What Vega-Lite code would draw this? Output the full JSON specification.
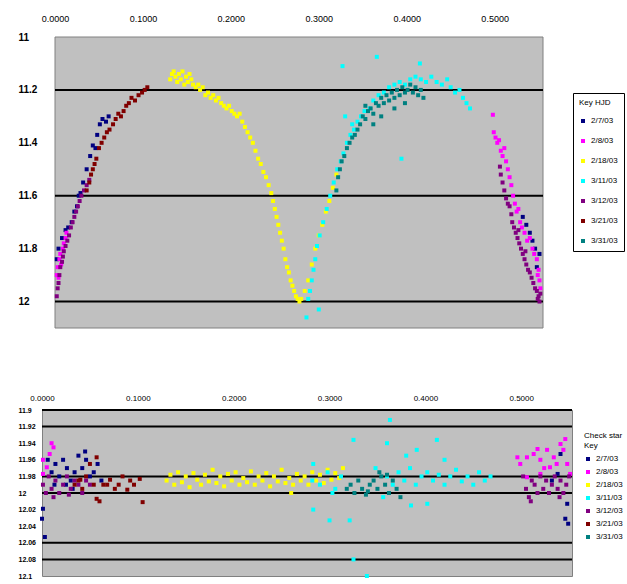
{
  "$schema": "https://vega.github.io/schema/vega-lite/v6.json",
  "background": "white",
  "padding": {"left": 17, "top": 14, "right": 0, "bottom": 0},
  "spacing": 64,
  "config": {
    "font": "Liberation Sans",
    "view": {"fill": "#C0C0C0", "stroke": "#808080", "strokeWidth": 1},
    "axis": {"grid": false, "domain": false, "ticks": false, "tickSize": 0, "labelColor": "#000000", "title": null},
    "legend": {"symbolType": "square", "symbolSize": 16, "labelFontSize": 8, "titleFontSize": 8, "titleFontWeight": "normal", "labelLimit": 40, "symbolStrokeWidth": 0}
  },
  "resolve": {"scale": {"color": "independent"}, "legend": {"color": "independent"}},
  "datasets": {
    "lc": [
      {"p":0.002,"m":11.84,"s":"2/7/03"},{"p":0.004,"m":11.80,"s":"2/7/03"},{"p":0.008,"m":11.76,"s":"2/7/03"},{"p":0.012,"m":11.73,"s":"2/7/03"},{"p":0.015,"m":11.72,"s":"2/7/03"},{"p":0.019,"m":11.70,"s":"2/7/03"},{"p":0.022,"m":11.66,"s":"2/7/03"},{"p":0.025,"m":11.64,"s":"2/7/03"},{"p":0.027,"m":11.60,"s":"2/7/03"},{"p":0.029,"m":11.59,"s":"2/7/03"},{"p":0.032,"m":11.55,"s":"2/7/03"},{"p":0.036,"m":11.50,"s":"2/7/03"},{"p":0.040,"m":11.45,"s":"2/7/03"},{"p":0.043,"m":11.41,"s":"2/7/03"},{"p":0.046,"m":11.42,"s":"2/7/03"},{"p":0.048,"m":11.37,"s":"2/7/03"},{"p":0.051,"m":11.33,"s":"2/7/03"},{"p":0.054,"m":11.31,"s":"2/7/03"},{"p":0.058,"m":11.32,"s":"2/7/03"},{"p":0.061,"m":11.30,"s":"2/7/03"},
      {"p":0.532,"m":11.68,"s":"2/7/03"},{"p":0.536,"m":11.71,"s":"2/7/03"},{"p":0.540,"m":11.74,"s":"2/7/03"},{"p":0.543,"m":11.77,"s":"2/7/03"},{"p":0.546,"m":11.80,"s":"2/7/03"},{"p":0.548,"m":11.87,"s":"2/7/03"},{"p":0.551,"m":11.82,"s":"2/7/03"},
      {"p":0.002,"m":11.90,"s":"2/8/03"},{"p":0.003,"m":11.87,"s":"2/8/03"},{"p":0.004,"m":11.91,"s":"2/8/03"},{"p":0.005,"m":11.84,"s":"2/8/03"},{"p":0.006,"m":11.82,"s":"2/8/03"},{"p":0.007,"m":11.86,"s":"2/8/03"},{"p":0.009,"m":11.80,"s":"2/8/03"},{"p":0.010,"m":11.78,"s":"2/8/03"},{"p":0.012,"m":11.76,"s":"2/8/03"},{"p":0.013,"m":11.74,"s":"2/8/03"},
      {"p":0.498,"m":11.294,"s":"2/8/03"},{"p":0.499,"m":11.36,"s":"2/8/03"},{"p":0.501,"m":11.38,"s":"2/8/03"},{"p":0.503,"m":11.40,"s":"2/8/03"},{"p":0.505,"m":11.39,"s":"2/8/03"},{"p":0.507,"m":11.43,"s":"2/8/03"},{"p":0.509,"m":11.45,"s":"2/8/03"},{"p":0.511,"m":11.42,"s":"2/8/03"},{"p":0.513,"m":11.47,"s":"2/8/03"},{"p":0.515,"m":11.50,"s":"2/8/03"},{"p":0.517,"m":11.53,"s":"2/8/03"},{"p":0.519,"m":11.56,"s":"2/8/03"},{"p":0.521,"m":11.60,"s":"2/8/03"},{"p":0.523,"m":11.63,"s":"2/8/03"},{"p":0.525,"m":11.66,"s":"2/8/03"},{"p":0.527,"m":11.65,"s":"2/8/03"},{"p":0.529,"m":11.70,"s":"2/8/03"},{"p":0.531,"m":11.72,"s":"2/8/03"},{"p":0.534,"m":11.74,"s":"2/8/03"},{"p":0.537,"m":11.77,"s":"2/8/03"},{"p":0.540,"m":11.76,"s":"2/8/03"},{"p":0.543,"m":11.80,"s":"2/8/03"},{"p":0.545,"m":11.82,"s":"2/8/03"},{"p":0.548,"m":11.84,"s":"2/8/03"},{"p":0.549,"m":11.90,"s":"2/8/03"},{"p":0.550,"m":11.88,"s":"2/8/03"},{"p":0.551,"m":11.92,"s":"2/8/03"},{"p":0.552,"m":11.95,"s":"2/8/03"},
      {"p":0.131,"m":11.16,"s":"2/18/03"},{"p":0.133,"m":11.14,"s":"2/18/03"},{"p":0.135,"m":11.13,"s":"2/18/03"},{"p":0.137,"m":11.15,"s":"2/18/03"},{"p":0.139,"m":11.17,"s":"2/18/03"},{"p":0.141,"m":11.14,"s":"2/18/03"},{"p":0.143,"m":11.16,"s":"2/18/03"},{"p":0.145,"m":11.13,"s":"2/18/03"},{"p":0.147,"m":11.18,"s":"2/18/03"},{"p":0.149,"m":11.15,"s":"2/18/03"},{"p":0.151,"m":11.17,"s":"2/18/03"},{"p":0.153,"m":11.14,"s":"2/18/03"},{"p":0.155,"m":11.16,"s":"2/18/03"},{"p":0.157,"m":11.18,"s":"2/18/03"},{"p":0.160,"m":11.19,"s":"2/18/03"},{"p":0.163,"m":11.18,"s":"2/18/03"},{"p":0.165,"m":11.20,"s":"2/18/03"},{"p":0.168,"m":11.19,"s":"2/18/03"},{"p":0.171,"m":11.22,"s":"2/18/03"},{"p":0.174,"m":11.21,"s":"2/18/03"},{"p":0.177,"m":11.23,"s":"2/18/03"},{"p":0.180,"m":11.22,"s":"2/18/03"},{"p":0.183,"m":11.24,"s":"2/18/03"},{"p":0.186,"m":11.23,"s":"2/18/03"},{"p":0.189,"m":11.25,"s":"2/18/03"},{"p":0.192,"m":11.26,"s":"2/18/03"},{"p":0.195,"m":11.27,"s":"2/18/03"},{"p":0.198,"m":11.26,"s":"2/18/03"},{"p":0.201,"m":11.28,"s":"2/18/03"},{"p":0.204,"m":11.29,"s":"2/18/03"},{"p":0.207,"m":11.30,"s":"2/18/03"},{"p":0.210,"m":11.29,"s":"2/18/03"},{"p":0.213,"m":11.32,"s":"2/18/03"},{"p":0.216,"m":11.34,"s":"2/18/03"},{"p":0.219,"m":11.36,"s":"2/18/03"},{"p":0.222,"m":11.38,"s":"2/18/03"},{"p":0.225,"m":11.40,"s":"2/18/03"},{"p":0.228,"m":11.43,"s":"2/18/03"},{"p":0.231,"m":11.46,"s":"2/18/03"},{"p":0.234,"m":11.48,"s":"2/18/03"},{"p":0.237,"m":11.51,"s":"2/18/03"},{"p":0.240,"m":11.53,"s":"2/18/03"},{"p":0.243,"m":11.56,"s":"2/18/03"},{"p":0.246,"m":11.59,"s":"2/18/03"},{"p":0.248,"m":11.62,"s":"2/18/03"},{"p":0.250,"m":11.65,"s":"2/18/03"},{"p":0.252,"m":11.68,"s":"2/18/03"},{"p":0.254,"m":11.71,"s":"2/18/03"},{"p":0.256,"m":11.74,"s":"2/18/03"},{"p":0.258,"m":11.77,"s":"2/18/03"},{"p":0.260,"m":11.80,"s":"2/18/03"},{"p":0.262,"m":11.84,"s":"2/18/03"},{"p":0.264,"m":11.87,"s":"2/18/03"},{"p":0.266,"m":11.89,"s":"2/18/03"},{"p":0.268,"m":11.92,"s":"2/18/03"},{"p":0.270,"m":11.94,"s":"2/18/03"},{"p":0.272,"m":11.96,"s":"2/18/03"},{"p":0.274,"m":11.98,"s":"2/18/03"},{"p":0.276,"m":11.99,"s":"2/18/03"},{"p":0.278,"m":12.00,"s":"2/18/03"},{"p":0.280,"m":11.99,"s":"2/18/03"},{"p":0.284,"m":11.96,"s":"2/18/03"},{"p":0.288,"m":11.92,"s":"2/18/03"},{"p":0.292,"m":11.86,"s":"2/18/03"},{"p":0.296,"m":11.80,"s":"2/18/03"},{"p":0.300,"m":11.75,"s":"2/18/03"},{"p":0.304,"m":11.71,"s":"2/18/03"},{"p":0.308,"m":11.66,"s":"2/18/03"},{"p":0.312,"m":11.62,"s":"2/18/03"},{"p":0.316,"m":11.57,"s":"2/18/03"},{"p":0.320,"m":11.52,"s":"2/18/03"},
      {"p":0.286,"m":12.06,"s":"3/11/03"},{"p":0.288,"m":11.99,"s":"3/11/03"},{"p":0.290,"m":11.96,"s":"3/11/03"},{"p":0.292,"m":11.92,"s":"3/11/03"},{"p":0.294,"m":11.88,"s":"3/11/03"},{"p":0.296,"m":11.84,"s":"3/11/03"},{"p":0.298,"m":11.79,"s":"3/11/03"},{"p":0.300,"m":12.03,"s":"3/11/03"},{"p":0.301,"m":11.75,"s":"3/11/03"},{"p":0.305,"m":11.70,"s":"3/11/03"},{"p":0.309,"m":11.65,"s":"3/11/03"},{"p":0.313,"m":11.60,"s":"3/11/03"},{"p":0.317,"m":11.55,"s":"3/11/03"},{"p":0.321,"m":11.50,"s":"3/11/03"},{"p":0.325,"m":11.47,"s":"3/11/03"},{"p":0.327,"m":11.11,"s":"3/11/03"},{"p":0.328,"m":11.44,"s":"3/11/03"},{"p":0.330,"m":11.30,"s":"3/11/03"},{"p":0.332,"m":11.40,"s":"3/11/03"},{"p":0.336,"m":11.37,"s":"3/11/03"},{"p":0.338,"m":11.33,"s":"3/11/03"},{"p":0.340,"m":11.35,"s":"3/11/03"},{"p":0.344,"m":11.32,"s":"3/11/03"},{"p":0.348,"m":11.30,"s":"3/11/03"},{"p":0.352,"m":11.28,"s":"3/11/03"},{"p":0.358,"m":11.27,"s":"3/11/03"},{"p":0.362,"m":11.24,"s":"3/11/03"},{"p":0.366,"m":11.075,"s":"3/11/03"},{"p":0.368,"m":11.22,"s":"3/11/03"},{"p":0.374,"m":11.21,"s":"3/11/03"},{"p":0.380,"m":11.19,"s":"3/11/03"},{"p":0.386,"m":11.18,"s":"3/11/03"},{"p":0.392,"m":11.17,"s":"3/11/03"},{"p":0.394,"m":11.46,"s":"3/11/03"},{"p":0.398,"m":11.18,"s":"3/11/03"},{"p":0.404,"m":11.16,"s":"3/11/03"},{"p":0.410,"m":11.15,"s":"3/11/03"},{"p":0.415,"m":11.10,"s":"3/11/03"},{"p":0.416,"m":11.16,"s":"3/11/03"},{"p":0.422,"m":11.17,"s":"3/11/03"},{"p":0.428,"m":11.15,"s":"3/11/03"},{"p":0.434,"m":11.17,"s":"3/11/03"},{"p":0.440,"m":11.18,"s":"3/11/03"},{"p":0.446,"m":11.16,"s":"3/11/03"},{"p":0.450,"m":11.19,"s":"3/11/03"},{"p":0.455,"m":11.21,"s":"3/11/03"},{"p":0.460,"m":11.20,"s":"3/11/03"},{"p":0.464,"m":11.23,"s":"3/11/03"},{"p":0.468,"m":11.25,"s":"3/11/03"},{"p":0.472,"m":11.27,"s":"3/11/03"},
      {"p":0.002,"m":11.98,"s":"3/12/03"},{"p":0.003,"m":11.95,"s":"3/12/03"},{"p":0.004,"m":11.93,"s":"3/12/03"},{"p":0.005,"m":11.90,"s":"3/12/03"},{"p":0.006,"m":11.87,"s":"3/12/03"},{"p":0.008,"m":11.85,"s":"3/12/03"},{"p":0.009,"m":11.83,"s":"3/12/03"},{"p":0.010,"m":11.81,"s":"3/12/03"},{"p":0.012,"m":11.79,"s":"3/12/03"},{"p":0.014,"m":11.77,"s":"3/12/03"},{"p":0.016,"m":11.75,"s":"3/12/03"},{"p":0.018,"m":11.72,"s":"3/12/03"},{"p":0.020,"m":11.70,"s":"3/12/03"},{"p":0.022,"m":11.68,"s":"3/12/03"},{"p":0.024,"m":11.66,"s":"3/12/03"},{"p":0.026,"m":11.64,"s":"3/12/03"},{"p":0.028,"m":11.62,"s":"3/12/03"},{"p":0.030,"m":11.60,"s":"3/12/03"},{"p":0.033,"m":11.58,"s":"3/12/03"},{"p":0.036,"m":11.56,"s":"3/12/03"},{"p":0.039,"m":11.54,"s":"3/12/03"},
      {"p":0.506,"m":11.49,"s":"3/12/03"},{"p":0.507,"m":11.52,"s":"3/12/03"},{"p":0.509,"m":11.55,"s":"3/12/03"},{"p":0.511,"m":11.58,"s":"3/12/03"},{"p":0.513,"m":11.61,"s":"3/12/03"},{"p":0.515,"m":11.63,"s":"3/12/03"},{"p":0.517,"m":11.64,"s":"3/12/03"},{"p":0.519,"m":11.67,"s":"3/12/03"},{"p":0.520,"m":11.70,"s":"3/12/03"},{"p":0.522,"m":11.72,"s":"3/12/03"},{"p":0.524,"m":11.74,"s":"3/12/03"},{"p":0.526,"m":11.76,"s":"3/12/03"},{"p":0.527,"m":11.73,"s":"3/12/03"},{"p":0.528,"m":11.78,"s":"3/12/03"},{"p":0.530,"m":11.80,"s":"3/12/03"},{"p":0.532,"m":11.82,"s":"3/12/03"},{"p":0.534,"m":11.84,"s":"3/12/03"},{"p":0.535,"m":11.81,"s":"3/12/03"},{"p":0.536,"m":11.86,"s":"3/12/03"},{"p":0.538,"m":11.88,"s":"3/12/03"},{"p":0.540,"m":11.89,"s":"3/12/03"},{"p":0.542,"m":11.91,"s":"3/12/03"},{"p":0.544,"m":11.93,"s":"3/12/03"},{"p":0.546,"m":11.95,"s":"3/12/03"},{"p":0.548,"m":11.96,"s":"3/12/03"},{"p":0.549,"m":11.99,"s":"3/12/03"},{"p":0.550,"m":11.98,"s":"3/12/03"},{"p":0.551,"m":12.00,"s":"3/12/03"},{"p":0.552,"m":11.97,"s":"3/12/03"},
      {"p":0.036,"m":11.58,"s":"3/21/03"},{"p":0.039,"m":11.55,"s":"3/21/03"},{"p":0.041,"m":11.52,"s":"3/21/03"},{"p":0.043,"m":11.50,"s":"3/21/03"},{"p":0.045,"m":11.48,"s":"3/21/03"},{"p":0.047,"m":11.46,"s":"3/21/03"},{"p":0.050,"m":11.42,"s":"3/21/03"},{"p":0.053,"m":11.40,"s":"3/21/03"},{"p":0.056,"m":11.38,"s":"3/21/03"},{"p":0.059,"m":11.36,"s":"3/21/03"},{"p":0.062,"m":11.35,"s":"3/21/03"},{"p":0.066,"m":11.33,"s":"3/21/03"},{"p":0.069,"m":11.31,"s":"3/21/03"},{"p":0.072,"m":11.29,"s":"3/21/03"},{"p":0.075,"m":11.30,"s":"3/21/03"},{"p":0.078,"m":11.28,"s":"3/21/03"},{"p":0.081,"m":11.26,"s":"3/21/03"},{"p":0.084,"m":11.25,"s":"3/21/03"},{"p":0.087,"m":11.23,"s":"3/21/03"},{"p":0.091,"m":11.24,"s":"3/21/03"},{"p":0.095,"m":11.22,"s":"3/21/03"},{"p":0.099,"m":11.21,"s":"3/21/03"},{"p":0.102,"m":11.20,"s":"3/21/03"},{"p":0.105,"m":11.19,"s":"3/21/03"},
      {"p":0.320,"m":11.58,"s":"3/31/03"},{"p":0.322,"m":11.53,"s":"3/31/03"},{"p":0.324,"m":11.50,"s":"3/31/03"},{"p":0.326,"m":11.47,"s":"3/31/03"},{"p":0.329,"m":11.45,"s":"3/31/03"},{"p":0.332,"m":11.42,"s":"3/31/03"},{"p":0.335,"m":11.40,"s":"3/31/03"},{"p":0.338,"m":11.38,"s":"3/31/03"},{"p":0.341,"m":11.37,"s":"3/31/03"},{"p":0.344,"m":11.35,"s":"3/31/03"},{"p":0.347,"m":11.33,"s":"3/31/03"},{"p":0.350,"m":11.30,"s":"3/31/03"},{"p":0.353,"m":11.31,"s":"3/31/03"},{"p":0.353,"m":11.26,"s":"3/31/03"},{"p":0.356,"m":11.28,"s":"3/31/03"},{"p":0.359,"m":11.27,"s":"3/31/03"},{"p":0.362,"m":11.29,"s":"3/31/03"},{"p":0.362,"m":11.33,"s":"3/31/03"},{"p":0.365,"m":11.25,"s":"3/31/03"},{"p":0.368,"m":11.26,"s":"3/31/03"},{"p":0.371,"m":11.23,"s":"3/31/03"},{"p":0.371,"m":11.30,"s":"3/31/03"},{"p":0.374,"m":11.25,"s":"3/31/03"},{"p":0.377,"m":11.22,"s":"3/31/03"},{"p":0.380,"m":11.24,"s":"3/31/03"},{"p":0.383,"m":11.21,"s":"3/31/03"},{"p":0.386,"m":11.23,"s":"3/31/03"},{"p":0.386,"m":11.27,"s":"3/31/03"},{"p":0.389,"m":11.20,"s":"3/31/03"},{"p":0.392,"m":11.22,"s":"3/31/03"},{"p":0.395,"m":11.19,"s":"3/31/03"},{"p":0.398,"m":11.21,"s":"3/31/03"},{"p":0.398,"m":11.25,"s":"3/31/03"},{"p":0.401,"m":11.20,"s":"3/31/03"},{"p":0.404,"m":11.18,"s":"3/31/03"},{"p":0.407,"m":11.21,"s":"3/31/03"},{"p":0.410,"m":11.19,"s":"3/31/03"},{"p":0.413,"m":11.22,"s":"3/31/03"},{"p":0.416,"m":11.20,"s":"3/31/03"},{"p":0.419,"m":11.23,"s":"3/31/03"}
    ],
    "chk": [
      {"p":0.006,"m":11.96,"s":"2/7/03"},{"p":0.010,"m":11.975,"s":"2/7/03"},{"p":0.013,"m":11.99,"s":"2/7/03"},{"p":0.014,"m":11.965,"s":"2/7/03"},{"p":0.018,"m":11.98,"s":"2/7/03"},{"p":0.022,"m":11.96,"s":"2/7/03"},{"p":0.025,"m":11.99,"s":"2/7/03"},{"p":0.026,"m":11.97,"s":"2/7/03"},{"p":0.030,"m":11.985,"s":"2/7/03"},{"p":0.032,"m":11.995,"s":"2/7/03"},{"p":0.034,"m":11.975,"s":"2/7/03"},{"p":0.038,"m":11.955,"s":"2/7/03"},{"p":0.042,"m":11.97,"s":"2/7/03"},{"p":0.045,"m":11.95,"s":"2/7/03"},{"p":0.046,"m":11.96,"s":"2/7/03"},{"p":0.050,"m":11.98,"s":"2/7/03"},{"p":0.054,"m":11.975,"s":"2/7/03"},{"p":0.058,"m":11.965,"s":"2/7/03"},{"p":0.062,"m":11.985,"s":"2/7/03"},{"p":0.001,"m":12.019,"s":"2/7/03"},{"p":0.0,"m":12.031,"s":"2/7/03"},{"p":0.003,"m":12.053,"s":"2/7/03"},
      {"p":0.532,"m":11.985,"s":"2/7/03"},{"p":0.538,"m":11.977,"s":"2/7/03"},{"p":0.541,"m":11.953,"s":"2/7/03"},{"p":0.546,"m":12.031,"s":"2/7/03"},{"p":0.548,"m":12.013,"s":"2/7/03"},{"p":0.549,"m":12.037,"s":"2/7/03"},
      {"p":0.012,"m":11.945,"s":"2/8/03"},{"p":0.008,"m":11.953,"s":"2/8/03"},{"p":0.001,"m":11.96,"s":"2/8/03"},{"p":0.005,"m":11.969,"s":"2/8/03"},{"p":0.001,"m":11.977,"s":"2/8/03"},{"p":0.010,"m":11.94,"s":"2/8/03"},
      {"p":0.496,"m":11.957,"s":"2/8/03"},{"p":0.499,"m":11.965,"s":"2/8/03"},{"p":0.506,"m":11.957,"s":"2/8/03"},{"p":0.506,"m":11.981,"s":"2/8/03"},{"p":0.513,"m":11.953,"s":"2/8/03"},{"p":0.517,"m":11.947,"s":"2/8/03"},{"p":0.520,"m":11.96,"s":"2/8/03"},{"p":0.520,"m":11.977,"s":"2/8/03"},{"p":0.524,"m":11.97,"s":"2/8/03"},{"p":0.527,"m":11.948,"s":"2/8/03"},{"p":0.530,"m":11.969,"s":"2/8/03"},{"p":0.534,"m":11.957,"s":"2/8/03"},{"p":0.537,"m":11.965,"s":"2/8/03"},{"p":0.541,"m":11.941,"s":"2/8/03"},{"p":0.544,"m":11.948,"s":"2/8/03"},{"p":0.546,"m":11.935,"s":"2/8/03"},{"p":0.548,"m":11.965,"s":"2/8/03"},{"p":0.551,"m":11.977,"s":"2/8/03"},
      {"p":0.130,"m":11.985,"s":"2/18/03"},{"p":0.134,"m":11.978,"s":"2/18/03"},{"p":0.138,"m":11.99,"s":"2/18/03"},{"p":0.142,"m":11.975,"s":"2/18/03"},{"p":0.146,"m":11.987,"s":"2/18/03"},{"p":0.150,"m":11.98,"s":"2/18/03"},{"p":0.154,"m":11.993,"s":"2/18/03"},{"p":0.158,"m":11.976,"s":"2/18/03"},{"p":0.162,"m":11.984,"s":"2/18/03"},{"p":0.166,"m":11.99,"s":"2/18/03"},{"p":0.170,"m":11.978,"s":"2/18/03"},{"p":0.174,"m":11.986,"s":"2/18/03"},{"p":0.178,"m":11.972,"s":"2/18/03"},{"p":0.182,"m":11.988,"s":"2/18/03"},{"p":0.186,"m":11.98,"s":"2/18/03"},{"p":0.190,"m":11.992,"s":"2/18/03"},{"p":0.194,"m":11.977,"s":"2/18/03"},{"p":0.198,"m":11.985,"s":"2/18/03"},{"p":0.202,"m":11.975,"s":"2/18/03"},{"p":0.206,"m":11.99,"s":"2/18/03"},{"p":0.210,"m":11.982,"s":"2/18/03"},{"p":0.214,"m":11.987,"s":"2/18/03"},{"p":0.218,"m":11.974,"s":"2/18/03"},{"p":0.222,"m":11.99,"s":"2/18/03"},{"p":0.226,"m":11.98,"s":"2/18/03"},{"p":0.230,"m":11.985,"s":"2/18/03"},{"p":0.234,"m":11.976,"s":"2/18/03"},{"p":0.238,"m":11.992,"s":"2/18/03"},{"p":0.242,"m":11.98,"s":"2/18/03"},{"p":0.246,"m":11.986,"s":"2/18/03"},{"p":0.250,"m":11.972,"s":"2/18/03"},{"p":0.254,"m":11.988,"s":"2/18/03"},{"p":0.258,"m":11.982,"s":"2/18/03"},{"p":0.260,"m":12.0,"s":"2/18/03"},{"p":0.262,"m":11.99,"s":"2/18/03"},{"p":0.266,"m":11.977,"s":"2/18/03"},{"p":0.270,"m":11.985,"s":"2/18/03"},{"p":0.274,"m":11.98,"s":"2/18/03"},{"p":0.278,"m":11.99,"s":"2/18/03"},{"p":0.282,"m":11.975,"s":"2/18/03"},{"p":0.286,"m":11.985,"s":"2/18/03"},{"p":0.290,"m":11.978,"s":"2/18/03"},{"p":0.294,"m":11.988,"s":"2/18/03"},{"p":0.298,"m":11.972,"s":"2/18/03"},{"p":0.302,"m":11.984,"s":"2/18/03"},{"p":0.306,"m":11.976,"s":"2/18/03"},{"p":0.310,"m":11.982,"s":"2/18/03"},{"p":0.314,"m":11.97,"s":"2/18/03"},
      {"p":0.282,"m":11.985,"s":"3/11/03"},{"p":0.283,"m":11.965,"s":"3/11/03"},{"p":0.283,"m":12.02,"s":"3/11/03"},{"p":0.290,"m":11.99,"s":"3/11/03"},{"p":0.298,"m":11.975,"s":"3/11/03"},{"p":0.300,"m":12.033,"s":"3/11/03"},{"p":0.303,"m":12.0,"s":"3/11/03"},{"p":0.306,"m":11.995,"s":"3/11/03"},{"p":0.312,"m":11.98,"s":"3/11/03"},{"p":0.321,"m":12.033,"s":"3/11/03"},{"p":0.325,"m":11.936,"s":"3/11/03"},{"p":0.325,"m":12.08,"s":"3/11/03"},{"p":0.339,"m":12.10,"s":"3/11/03"},{"p":0.348,"m":11.97,"s":"3/11/03"},{"p":0.356,"m":12.005,"s":"3/11/03"},{"p":0.360,"m":11.98,"s":"3/11/03"},{"p":0.360,"m":11.94,"s":"3/11/03"},{"p":0.363,"m":11.912,"s":"3/11/03"},{"p":0.366,"m":11.99,"s":"3/11/03"},{"p":0.372,"m":11.975,"s":"3/11/03"},{"p":0.378,"m":11.985,"s":"3/11/03"},{"p":0.380,"m":11.955,"s":"3/11/03"},{"p":0.384,"m":11.97,"s":"3/11/03"},{"p":0.385,"m":12.015,"s":"3/11/03"},{"p":0.390,"m":11.99,"s":"3/11/03"},{"p":0.391,"m":11.948,"s":"3/11/03"},{"p":0.396,"m":11.98,"s":"3/11/03"},{"p":0.402,"m":11.975,"s":"3/11/03"},{"p":0.402,"m":12.013,"s":"3/11/03"},{"p":0.408,"m":11.985,"s":"3/11/03"},{"p":0.412,"m":11.936,"s":"3/11/03"},{"p":0.414,"m":11.978,"s":"3/11/03"},{"p":0.420,"m":11.99,"s":"3/11/03"},{"p":0.420,"m":11.96,"s":"3/11/03"},{"p":0.426,"m":11.98,"s":"3/11/03"},{"p":0.432,"m":11.972,"s":"3/11/03"},{"p":0.438,"m":11.986,"s":"3/11/03"},{"p":0.444,"m":11.98,"s":"3/11/03"},{"p":0.450,"m":11.99,"s":"3/11/03"},{"p":0.456,"m":11.975,"s":"3/11/03"},{"p":0.462,"m":11.985,"s":"3/11/03"},{"p":0.468,"m":11.98,"s":"3/11/03"},
      {"p":0.001,"m":11.99,"s":"3/12/03"},{"p":0.004,"m":12.0,"s":"3/12/03"},{"p":0.007,"m":11.98,"s":"3/12/03"},{"p":0.010,"m":11.995,"s":"3/12/03"},{"p":0.012,"m":12.005,"s":"3/12/03"},{"p":0.014,"m":11.985,"s":"3/12/03"},{"p":0.018,"m":12.0,"s":"3/12/03"},{"p":0.022,"m":11.99,"s":"3/12/03"},{"p":0.026,"m":11.98,"s":"3/12/03"},{"p":0.028,"m":12.002,"s":"3/12/03"},{"p":0.030,"m":11.995,"s":"3/12/03"},{"p":0.034,"m":11.985,"s":"3/12/03"},{"p":0.038,"m":11.99,"s":"3/12/03"},{"p":0.042,"m":12.0,"s":"3/12/03"},{"p":0.046,"m":11.985,"s":"3/12/03"},{"p":0.050,"m":11.99,"s":"3/12/03"},
      {"p":0.502,"m":11.98,"s":"3/12/03"},{"p":0.505,"m":11.995,"s":"3/12/03"},{"p":0.508,"m":12.005,"s":"3/12/03"},{"p":0.510,"m":12.01,"s":"3/12/03"},{"p":0.511,"m":11.985,"s":"3/12/03"},{"p":0.514,"m":11.99,"s":"3/12/03"},{"p":0.517,"m":12.0,"s":"3/12/03"},{"p":0.520,"m":11.98,"s":"3/12/03"},{"p":0.523,"m":11.995,"s":"3/12/03"},{"p":0.526,"m":11.985,"s":"3/12/03"},{"p":0.529,"m":12.0,"s":"3/12/03"},{"p":0.532,"m":11.99,"s":"3/12/03"},{"p":0.535,"m":11.98,"s":"3/12/03"},{"p":0.538,"m":11.995,"s":"3/12/03"},{"p":0.540,"m":12.005,"s":"3/12/03"},{"p":0.541,"m":11.985,"s":"3/12/03"},{"p":0.544,"m":12.0,"s":"3/12/03"},{"p":0.547,"m":11.99,"s":"3/12/03"},{"p":0.550,"m":11.98,"s":"3/12/03"},
      {"p":0.034,"m":11.99,"s":"3/21/03"},{"p":0.038,"m":11.985,"s":"3/21/03"},{"p":0.040,"m":11.984,"s":"3/21/03"},{"p":0.042,"m":11.995,"s":"3/21/03"},{"p":0.046,"m":11.98,"s":"3/21/03"},{"p":0.050,"m":11.965,"s":"3/21/03"},{"p":0.054,"m":11.99,"s":"3/21/03"},{"p":0.057,"m":11.957,"s":"3/21/03"},{"p":0.057,"m":12.007,"s":"3/21/03"},{"p":0.060,"m":12.01,"s":"3/21/03"},{"p":0.064,"m":11.99,"s":"3/21/03"},{"p":0.068,"m":11.99,"s":"3/21/03"},{"p":0.071,"m":11.984,"s":"3/21/03"},{"p":0.076,"m":11.995,"s":"3/21/03"},{"p":0.080,"m":11.99,"s":"3/21/03"},{"p":0.084,"m":11.98,"s":"3/21/03"},{"p":0.089,"m":11.996,"s":"3/21/03"},{"p":0.092,"m":11.985,"s":"3/21/03"},{"p":0.096,"m":11.99,"s":"3/21/03"},{"p":0.102,"m":11.983,"s":"3/21/03"},{"p":0.105,"m":12.011,"s":"3/21/03"},
      {"p":0.318,"m":11.995,"s":"3/31/03"},{"p":0.322,"m":11.99,"s":"3/31/03"},{"p":0.326,"m":12.0,"s":"3/31/03"},{"p":0.330,"m":11.985,"s":"3/31/03"},{"p":0.334,"m":11.995,"s":"3/31/03"},{"p":0.338,"m":12.002,"s":"3/31/03"},{"p":0.340,"m":11.998,"s":"3/31/03"},{"p":0.342,"m":11.99,"s":"3/31/03"},{"p":0.346,"m":11.985,"s":"3/31/03"},{"p":0.350,"m":11.995,"s":"3/31/03"},{"p":0.352,"m":11.975,"s":"3/31/03"},{"p":0.354,"m":11.98,"s":"3/31/03"},{"p":0.358,"m":11.99,"s":"3/31/03"},{"p":0.360,"m":11.978,"s":"3/31/03"},{"p":0.362,"m":12.0,"s":"3/31/03"},{"p":0.366,"m":11.985,"s":"3/31/03"},{"p":0.370,"m":11.995,"s":"3/31/03"},{"p":0.374,"m":12.005,"s":"3/31/03"}
    ]
  },
  "vconcat": [
    {
      "width": 501,
      "height": 291,
      "view": {"fill": null, "stroke": null},
      "layer": [
        {
          "data": {"values": [{"a": 0, "b": 0.555, "lo": 11, "hi": 12.1}]},
          "mark": {"type": "rect", "fill": "#C0C0C0", "stroke": "#808080", "strokeWidth": 1},
          "encoding": {
            "x": {"field": "a", "type": "quantitative", "scale": {"domain": [0, 0.555], "range": [13, 501], "nice": false, "zero": false}},
            "x2": {"field": "b"},
            "y": {"field": "lo", "type": "quantitative", "scale": {"domain": [11, 12.1], "reverse": true, "nice": false, "zero": false}},
            "y2": {"field": "hi"}
          }
        },
        {
          "data": {"values": [{"m": 11.2, "a": 0, "b": 0.555}, {"m": 11.6, "a": 0, "b": 0.555}, {"m": 12.0, "a": 0, "b": 0.555}]},
          "mark": {"type": "rule", "color": "#000000", "strokeWidth": 2},
          "encoding": {
            "x": {"field": "a", "type": "quantitative", "scale": {"domain": [0, 0.555], "range": [13, 501], "nice": false, "zero": false}},
            "x2": {"field": "b"},
            "y": {"field": "m", "type": "quantitative", "scale": {"domain": [11, 12.1], "reverse": true, "nice": false, "zero": false}}
          }
        },
        {
          "data": {"name": "lc"},
          "mark": {"type": "square", "size": 16, "opacity": 1},
          "encoding": {
            "x": {"field": "p", "type": "quantitative", "scale": {"domain": [0, 0.555], "range": [13, 501], "nice": false, "zero": false},
                  "axis": {"orient": "top", "values": [0, 0.1, 0.2, 0.3, 0.4, 0.5], "format": ".4f", "labelFontSize": 9, "labelPadding": 14, "labelFlush": false}},
            "y": {"field": "m", "type": "quantitative", "scale": {"domain": [11, 12.1], "reverse": true, "nice": false, "zero": false},
                  "axis": {"values": [11, 11.2, 11.4, 11.6, 11.8, 12], "labelExpr": "format(datum.value, '.1~f')", "labelAlign": "left", "labelPadding": 24, "labelFontSize": 10, "labelFontWeight": "bold", "labelFlush": false}},
            "color": {"field": "s", "type": "nominal",
                      "scale": {"domain": ["2/7/03", "2/8/03", "2/18/03", "3/11/03", "3/12/03", "3/21/03", "3/31/03"], "range": ["#000080", "#FF00FF", "#FFFF00", "#00FFFF", "#800080", "#800000", "#008080"]},
                      "legend": {"orient": "none", "legendX": 531, "legendY": 56, "title": "Key HJD", "titlePadding": 10, "strokeColor": "#000000", "padding": 6, "rowPadding": 12}}
          }
        }
      ]
    },
    {
      "width": 530,
      "height": 166,
      "layer": [
        {
          "data": {"values": [{"m": 11.9}, {"m": 11.92}, {"m": 11.98}, {"m": 12.0}, {"m": 12.06}, {"m": 12.08}]},
          "mark": {"type": "rule", "color": "#000000", "strokeWidth": 2},
          "encoding": {
            "y": {"field": "m", "type": "quantitative", "scale": {"domain": [11.9, 12.1], "reverse": true, "nice": false, "zero": false},
                  "axis": {"values": [11.9, 11.92, 11.94, 11.96, 11.98, 12, 12.02, 12.04, 12.06, 12.08, 12.1], "labelExpr": "format(datum.value, '.2~f')", "labelAlign": "left", "labelPadding": 24, "labelFontSize": 7, "labelFontWeight": "bold", "labelFlush": false}}
          }
        },
        {
          "data": {"name": "chk"},
          "mark": {"type": "square", "size": 16, "opacity": 1},
          "encoding": {
            "x": {"field": "p", "type": "quantitative", "scale": {"domain": [0, 0.553], "nice": false, "zero": false},
                  "axis": {"orient": "top", "values": [0, 0.1, 0.2, 0.3, 0.4, 0.5], "format": ".4f", "labelFontSize": 8, "labelPadding": 8, "labelFlush": false}},
            "y": {"field": "m", "type": "quantitative", "scale": {"domain": [11.9, 12.1], "reverse": true, "nice": false, "zero": false},
                  "axis": {"values": [11.9, 11.92, 11.94, 11.96, 11.98, 12, 12.02, 12.04, 12.06, 12.08, 12.1], "labelExpr": "format(datum.value, '.2~f')", "labelAlign": "left", "labelPadding": 24, "labelFontSize": 7, "labelFontWeight": "bold", "labelFlush": false}},
            "color": {"field": "s", "type": "nominal",
                      "scale": {"domain": ["2/7/03", "2/8/03", "2/18/03", "3/11/03", "3/12/03", "3/21/03", "3/31/03"], "range": ["#000080", "#FF00FF", "#FFFF00", "#00FFFF", "#800080", "#800000", "#008080"]},
                      "legend": {"orient": "none", "legendX": 542, "legendY": 22, "title": ["Check star", "Key"], "padding": 0, "rowPadding": 5}}
          }
        }
      ]
    }
  ]
}
